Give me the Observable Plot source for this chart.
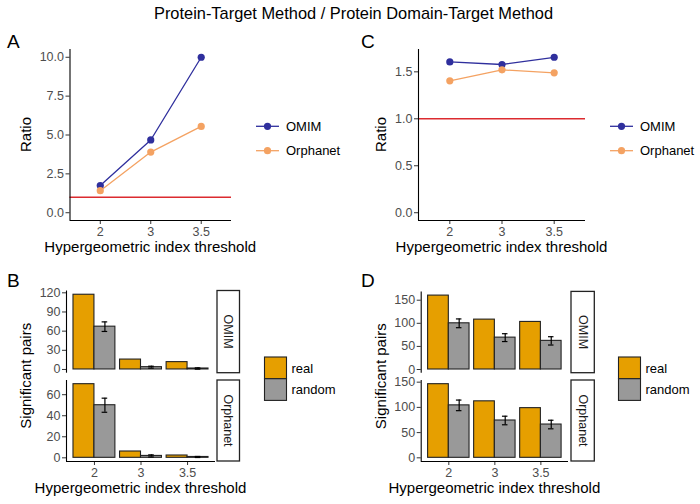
<!DOCTYPE html>
<html><head><meta charset="utf-8">
<script src="https://cdn.jsdelivr.net/npm/d3@7"></script>
<script src="https://cdn.jsdelivr.net/npm/@observablehq/plot@0.6"></script>
<style>
body{margin:0;background:#fff}
#wrap{position:relative;width:700px;height:504px;overflow:hidden;font-family:"Liberation Sans",Arial,sans-serif}
#wrap svg{position:absolute;left:0;top:0}
</style></head><body><div id="wrap"></div>
<script>
// ---- data ----
const thresholds = ["2", "3", "3.5"];
const seriesNames = ["OMIM", "Orphanet"];
const typeNames = ["real", "random"];
const refRatio = 1;

const ratioA_OMIM = [1.75, 4.68, 10.0];
const ratioA_Orphanet = [1.42, 3.90, 5.55];
const ratioC_OMIM = [1.605, 1.578, 1.655];
const ratioC_Orphanet = [1.404, 1.521, 1.489];
const ticksA = [0, 2.5, 5, 7.5, 10];
const ticksC = [0, 0.5, 1, 1.5];

const B_OMIM_real = [117, 15.5, 11.5];
const B_OMIM_random = [67, 3.6, 1.5];
const B_OMIM_err = [7.5, 1.5, 1.0];
const B_Orph_real = [70, 6.0, 2.2];
const B_Orph_random = [50, 1.8, 0.8];
const B_Orph_err = [6.7, 1.0, 0.5];
const ticksB_OMIM = [0, 30, 60, 90, 120];
const ticksB_Orph = [0, 20, 40, 60];

const D_OMIM_real = [160, 108, 103];
const D_OMIM_random = [100, 69, 62];
const D_OMIM_err = [9.5, 8.5, 9.0];
const D_Orph_real = [146, 112, 98.5];
const D_Orph_random = [104, 74, 66];
const D_Orph_err = [10.5, 8.5, 8.5];
const ticksD = [0, 50, 100, 150];

const title = "Protein-Target Method / Protein Domain-Target Method";
const xTitle = "Hypergeometric index threshold";

// ---- style ----
const W = 700, H = 504;
const FONT = '"Liberation Sans", Arial, sans-serif';
const BLUE = "#2f2f9d", ORANGE = "#f4a262", RED = "#dc2b2f";
const FILL_REAL = "#e69f00", FILL_RAND = "#999999";
const TICK_TXT = "#4d4d4d", TICK = "#333333";
const TICK_FS = 12.5;

const wrap = document.getElementById("wrap");
const expand = (lo, hi) => [lo - 0.05 * (hi - lo), hi + 0.05 * (hi - lo)];
const xDomain = [0.4, 3.6];

function frameOpts(a) {
  return {
    width: W, height: H,
    marginLeft: a.x0, marginRight: W - a.x1, marginTop: a.y0, marginBottom: H - a.y1,
    style: {background: "transparent", fontFamily: FONT, fontSize: "12px", overflow: "visible"}
  };
}
function axisMarks(yd, ticks, fmt, showX) {
  const m = [
    Plot.axisY({ticks, tickFormat: fmt, tickSize: 4, tickPadding: 2, label: null, fill: TICK_TXT, stroke: TICK, fontSize: TICK_FS}),
    Plot.ruleX([xDomain[0]], {stroke: "#000", strokeWidth: 1.1})
  ];
  if (showX) {
    m.push(Plot.axisX({ticks: [1, 2, 3], tickFormat: i => thresholds[i - 1], tickSize: 4, tickPadding: 3, label: null, fill: TICK_TXT, stroke: TICK, fontSize: TICK_FS}));
    m.push(Plot.ruleY([yd[0]], {stroke: "#000", strokeWidth: 1.1}));
  }
  return m;
}

function ratioPlot(area, a, b, ticks, fmt) {
  const data = thresholds.flatMap((t, k) => [
    {t, i: k + 1, series: "OMIM", v: a[k]},
    {t, i: k + 1, series: "Orphanet", v: b[k]}
  ]);
  const yd = expand(0, d3.max([...a, ...b, refRatio]));
  return Plot.plot({
    ...frameOpts(area),
    x: {domain: xDomain, axis: null},
    y: {domain: yd, axis: null},
    color: {domain: seriesNames, range: [BLUE, ORANGE]},
    marks: [
      Plot.ruleY([refRatio], {stroke: RED, strokeWidth: 1.5}),
      Plot.line(data, {x: "i", y: "v", stroke: "series", strokeWidth: 1.3}),
      Plot.dot(data, {x: "i", y: "v", fill: "series", r: 3.6}),
      ...axisMarks(yd, ticks, fmt, true)
    ]
  });
}

function barPlot(area, real, random, err, ticks, showX) {
  const data = thresholds.flatMap((t, k) => [
    {t, i: k + 1, type: "real", v: real[k], e: 0},
    {t, i: k + 1, type: "random", v: random[k], e: err[k]}
  ]);
  const x1 = d => d.i - 0.45 + (d.type === "random" ? 0.45 : 0);
  const x2 = d => x1(d) + 0.45;
  const errData = data.filter(d => d.type === "random");
  const xc = d => d.i + 0.225;
  const cap = 0.06;
  const yd = expand(0, d3.max(data, d => d.v + d.e));
  return Plot.plot({
    ...frameOpts(area),
    x: {domain: xDomain, axis: null},
    y: {domain: yd, axis: null},
    color: {domain: typeNames, range: [FILL_REAL, FILL_RAND]},
    marks: [
      Plot.rect(data, {x1, x2, y1: () => 0, y2: "v", fill: "type", stroke: "#222", strokeWidth: 1.1}),
      Plot.ruleX(errData, {x: xc, y1: d => d.v - d.e, y2: d => d.v + d.e, stroke: "#000", strokeWidth: 1.2}),
      Plot.ruleY(errData, {y: d => d.v + d.e, x1: d => xc(d) - cap, x2: d => xc(d) + cap, stroke: "#000", strokeWidth: 1.2}),
      Plot.ruleY(errData, {y: d => d.v - d.e, x1: d => xc(d) - cap, x2: d => xc(d) + cap, stroke: "#000", strokeWidth: 1.2}),
      ...axisMarks(yd, ticks, d3.format("d"), showX)
    ]
  });
}

const fmt1 = d3.format(".1f");
const areaA = {x0: 69.5, x1: 231, y0: 49, y1: 220};
const areaC = {x0: 418, x1: 585, y0: 49, y1: 220};
const areaB1 = {x0: 66, x1: 215, y0: 290.5, y1: 372.7};
const areaB2 = {x0: 66, x1: 215, y0: 380, y1: 461};
const areaD1 = {x0: 420.7, x1: 568, y0: 291.4, y1: 372.7};
const areaD2 = {x0: 420.7, x1: 568, y0: 380, y1: 461};

wrap.append(ratioPlot(areaA, ratioA_OMIM, ratioA_Orphanet, ticksA, fmt1));
wrap.append(ratioPlot(areaC, ratioC_OMIM, ratioC_Orphanet, ticksC, fmt1));
wrap.append(barPlot(areaB1, B_OMIM_real, B_OMIM_random, B_OMIM_err, ticksB_OMIM, false));
wrap.append(barPlot(areaB2, B_Orph_real, B_Orph_random, B_Orph_err, ticksB_Orph, true));
wrap.append(barPlot(areaD1, D_OMIM_real, D_OMIM_random, D_OMIM_err, ticksD, false));
wrap.append(barPlot(areaD2, D_Orph_real, D_Orph_random, D_Orph_err, ticksD, true));

// ---- annotations: titles, panel letters, strips, legends ----
const svg = d3.select(wrap).append("svg").attr("width", W).attr("height", H)
  .style("font-family", FONT).style("pointer-events", "none");
svg.append("text").attr("x", 353.5).attr("y", 19).attr("text-anchor", "middle")
  .attr("font-size", 16.4).attr("fill", "#000").text(title);

const letters = [["A", 7, 48], ["C", 361, 48], ["B", 7, 287], ["D", 361, 287]];
letters.forEach(([t, x, y]) => svg.append("text").attr("x", x).attr("y", y).attr("font-size", 19).attr("fill", "#000").text(t));

function xLabel(a, y) {
  svg.append("text").attr("x", (a.x0 + a.x1) / 2).attr("y", y).attr("text-anchor", "middle")
    .attr("font-size", 15).attr("fill", "#000").text(xTitle);
}
function yLabel(x, yc, t) {
  svg.append("text").attr("transform", `translate(${x},${yc}) rotate(-90)`).attr("text-anchor", "middle")
    .attr("font-size", 15).attr("fill", "#000").text(t);
}
xLabel(areaA, 252); xLabel(areaC, 252); xLabel(areaB2, 493); xLabel(areaD2, 493);
yLabel(31, (areaA.y0 + areaA.y1) / 2, "Ratio");
yLabel(386, (areaC.y0 + areaC.y1) / 2, "Ratio");
yLabel(31, (areaB1.y0 + areaB2.y1) / 2, "Significant pairs");
yLabel(386, (areaD1.y0 + areaD2.y1) / 2, "Significant pairs");

function strip(x0, x1, a, t) {
  svg.append("rect").attr("x", x0).attr("y", a.y0).attr("width", x1 - x0).attr("height", a.y1 - a.y0)
    .attr("fill", "#fff").attr("stroke", "#222").attr("stroke-width", 1.3);
  svg.append("text").attr("transform", `translate(${(x0 + x1) / 2},${(a.y0 + a.y1) / 2}) rotate(90)`)
    .attr("text-anchor", "middle").attr("dominant-baseline", "central").attr("font-size", 12.5).attr("fill", "#1a1a1a").text(t);
}
strip(217, 239.5, areaB1, seriesNames[0]); strip(217, 239.5, areaB2, seriesNames[1]);
strip(571, 594.3, areaD1, seriesNames[0]); strip(571, 594.3, areaD2, seriesNames[1]);

function lineLegend(x0, ys) {
  const cols = [BLUE, ORANGE];
  seriesNames.forEach((s, k) => {
    svg.append("line").attr("x1", x0).attr("x2", x0 + 23).attr("y1", ys[k]).attr("y2", ys[k]).attr("stroke", cols[k]).attr("stroke-width", 1.3);
    svg.append("circle").attr("cx", x0 + 11.5).attr("cy", ys[k]).attr("r", 3.6).attr("fill", cols[k]);
    svg.append("text").attr("x", x0 + 30).attr("y", ys[k]).attr("dominant-baseline", "central").attr("font-size", 13).attr("fill", "#000").text(s);
  });
}
lineLegend(256, [126.3, 150.7]);
lineLegend(610, [126.3, 150.7]);

function barLegend(x0, y0) {
  const cols = [FILL_REAL, FILL_RAND];
  typeNames.forEach((s, k) => {
    svg.append("rect").attr("x", x0).attr("y", y0 + k * 21.7).attr("width", 22).attr("height", 21.7)
      .attr("fill", cols[k]).attr("stroke", "#222").attr("stroke-width", 1.1);
    svg.append("text").attr("x", x0 + 27).attr("y", y0 + k * 21.7 + 11).attr("dominant-baseline", "central").attr("font-size", 13).attr("fill", "#000").text(s);
  });
}
barLegend(264.5, 357);
barLegend(618.5, 357);
</script></body></html>
